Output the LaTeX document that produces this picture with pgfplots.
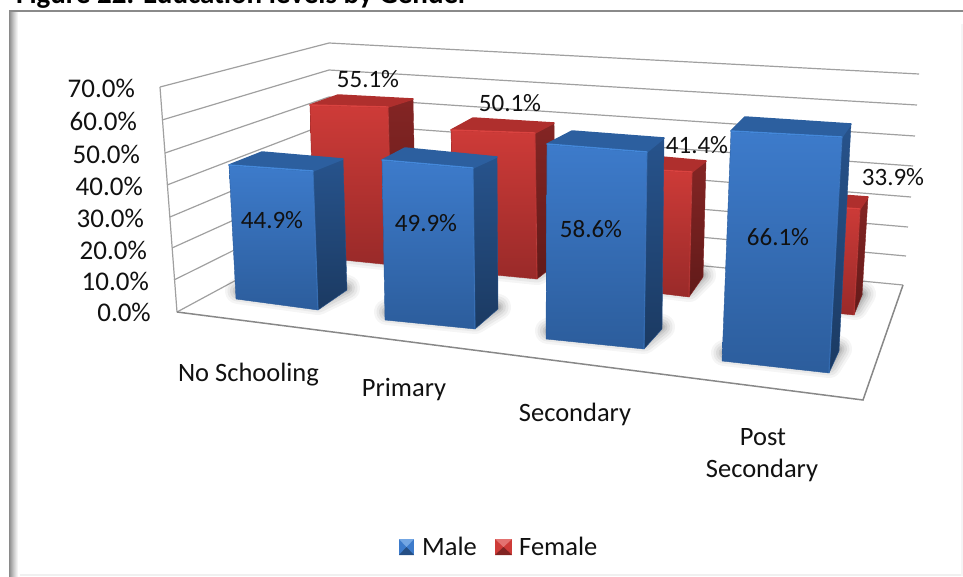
\documentclass[border=0pt]{standalone}
\usepackage{pgfplots}
\pgfplotsset{compat=1.18}
\usepackage{fontspec}
\setmainfont{Carlito}
\definecolor{bFT}{HTML}{3D7BCB}
\definecolor{bFB}{HTML}{2C5D9C}
\definecolor{bST}{HTML}{27538C}
\definecolor{bSB}{HTML}{1B3A62}
\definecolor{bTP}{HTML}{2C5F9F}
\definecolor{bHL}{HTML}{4488DA}
\definecolor{rFT}{HTML}{CE3B38}
\definecolor{rFB}{HTML}{992A29}
\definecolor{rST}{HTML}{842524}
\definecolor{rSB}{HTML}{611A19}
\definecolor{rTP}{HTML}{AF2F2D}
\definecolor{rHL}{HTML}{DA4340}
\definecolor{gridc}{HTML}{A0A0A0}
\definecolor{framec}{HTML}{8A8A8A}
\definecolor{txt}{HTML}{111111}
% front TL, TR, BR, BL; back TL, TR, BR
\newcommand{\tdbar}[8]{%
  \addplot[draw=#1ST, thin, line join=round, top color=#1ST, bottom color=#1SB]
    coordinates {(#3) (#7) (#8) (#4)} -- cycle;
  \addplot[draw=#1FB, thin, line join=round, top color=#1FT, bottom color=#1FB]
    coordinates {(#2) (#3) (#4) (#5)} -- cycle;
  \addplot[draw=#1TP, line width=1.5pt, line join=round, fill=#1TP]
    coordinates {(#2) (#6) (#7) (#3)} -- cycle;
  \addplot[draw=#1HL, line width=1.4pt, line cap=round]
    coordinates {(#2) (#3)};
  \addplot[draw=#1HL, line width=1.2pt, opacity=.4]
    coordinates {(#3) (#4)};
}
\newcommand{\shadow}[1]{%
  \addplot[draw=black, fill=black, line width=26pt, line join=round, opacity=.04] coordinates {#1} -- cycle;
  \addplot[draw=black, fill=black, line width=21pt, line join=round, opacity=.05] coordinates {#1} -- cycle;
  \addplot[draw=black, fill=black, line width=16pt, line join=round, opacity=.06] coordinates {#1} -- cycle;
  \addplot[draw=black, fill=black, line width=11pt, line join=round, opacity=.07] coordinates {#1} -- cycle;
  \addplot[draw=black, fill=black, line width=7pt, line join=round, opacity=.08] coordinates {#1} -- cycle;
  \addplot[draw=black, fill=black, line width=3pt, line join=round, opacity=.09] coordinates {#1} -- cycle;
}
\newcommand{\gridl}[3]{%
  \addplot[gridc, line width=1.2pt, line join=miter] coordinates {(#1) (#2) (#3)};
}
\newcommand{\lab}[3]{\node[anchor=base, text=txt, inner sep=0pt, font=\fontsize{25}{30}\selectfont] at (axis cs:#1,#2) {#3};}
\newcommand{\cat}[3]{\node[anchor=base, text=txt, inner sep=0pt, font=\fontsize{26.5}{30}\selectfont] at (axis cs:#1,#2) {#3};}
\newcommand{\tick}[3]{\node[anchor=base east, text=txt, inner sep=0pt, font=\fontsize{27}{30}\selectfont] at (axis cs:#1,#2) {#3};}
\newcommand{\leg}[3]{\node[anchor=base west, text=txt, inner sep=0pt, font=\fontsize{26.5}{30}\selectfont] at (axis cs:#1,#2) {#3};}
% legend key: x-left, x-right, colour set
\newcommand{\key}[3]{%
  \pgfmathsetmacro{\xm}{(#1+#2)/2}%
  \edef\temp{\noexpand\addplot[draw=none, fill=#3FT] coordinates {(#1,539) (#2,539) (#2,555) (#1,555)} -- cycle;
  \noexpand\addplot[draw=none, fill=#3HL!75!white] coordinates {(#1,539) (#2,539) (\xm,547)} -- cycle;
  \noexpand\addplot[draw=none, fill=#3FB!85!black] coordinates {(#1,555) (#2,555) (\xm,547)} -- cycle;}\temp
}
\begin{document}
\begin{tikzpicture}
\path[use as bounding box] (0,0) rectangle (963pt,576pt);
\clip (0,0) rectangle (963pt,576pt);
\begin{axis}[
  scale only axis, width=963pt, height=576pt,
  xmin=0, xmax=963, ymin=0, ymax=576, y dir=reverse,
  hide axis, clip=false,
]
% frame
\addplot[draw=none, left color=framec, right color=white, middle color=framec!45!white]
  coordinates {(9,10) (18,10) (18,576) (9,576)} -- cycle;
\addplot[draw=none, fill=framec] coordinates {(9,10) (963,10) (963,12) (9,12)} -- cycle;
\addplot[draw=none, fill=black!6] coordinates {(20,574) (963,574) (963,576) (20,576)} -- cycle;
\addplot[draw=none, fill=black!4] coordinates {(961,24) (963,24) (963,576) (961,576)} -- cycle;
% walls: left-end, back-corner, right-end of each gridline
\gridl{160,87}{329,43}{919,74}
\gridl{162,120}{329,70}{917,105}
\gridl{165,153}{329,97}{915,136}
\gridl{167,185}{329,123}{913,166}
\gridl{170,217}{329,150}{911,197}
\gridl{172,248}{329,177}{908,227}
\gridl{174,280}{329,203}{906,256}
\gridl{177,312}{329,230}{903,285}
% left wall edge and floor outline
\addplot[gridc, line width=1.2pt] coordinates {(160,87) (177,312)};
\addplot[gridc!85!black, line width=1.5pt, line join=miter] coordinates {(177,312) (863,400) (903,285)};
% shadows
\shadow{(320,250) (392,258) (416,243) (370,235)}
\shadow{(460,264) (537,272) (556,262) (500,250)}
\shadow{(665,286) (689,289) (703,275) (680,270)}
\shadow{(845,305) (855,307) (863,294) (850,285)}
\shadow{(238,291) (318,302) (347,288) (290,270)}
\shadow{(387,312) (475,321) (498,307) (440,290)}
\shadow{(548,331) (644,341) (662,327) (600,310)}
\shadow{(724,353) (829,365) (839,349) (780,330)}
% red series
\tdbar{r}{310,105}{388,107}{392,265}{314,257}{338,95}{413,99}{416,245}
\tdbar{r}{451,130}{535,133}{537,279}{454,271}{473,118}{554,123}{556,264}
\tdbar{r}{620,168}{692,172}{689,297}{615,288}{640,155}{706,161}{703,277}
\tdbar{r}{790,204}{860,209}{854,315}{785,308}{800,192}{868,197}{862,295}
% blue series
\tdbar{b}{229,165}{313,171}{318,310}{236,299}{262,152}{343,159}{347,290}
\tdbar{b}{382,160}{473,168}{475,329}{385,320}{405,148}{497,157}{498,309}
\tdbar{b}{547,144}{647,152}{644,349}{546,339}{572,131}{664,138}{662,329}
\tdbar{b}{731,131}{842,137}{829,373}{722,361}{745,117}{851,124}{839,351}
% value axis labels
\tick{135}{97}{70.0\%}
\tick{137}{130}{60.0\%}
\tick{140}{163}{50.0\%}
\tick{143}{195}{40.0\%}
\tick{144}{227}{30.0\%}
\tick{147}{259}{20.0\%}
\tick{149}{290}{10.0\%}
\tick{151}{321}{0.0\%}
% data labels
\lab{368}{87}{55.1\%}
\lab{510}{111}{50.1\%}
\lab{697}{153}{41.4\%}
\lab{893}{185}{33.9\%}
\lab{272}{228}{44.9\%}
\lab{426}{231}{49.9\%}
\lab{591}{237}{58.6\%}
\lab{778}{245}{66.1\%}
% category labels
\cat{248.5}{381}{No Schooling}
\cat{404}{396}{Primary}
\cat{575}{421}{Secondary}
\cat{763}{445}{Post}
\cat{762}{477}{Secondary}
% title, cut by the top of the picture
\node[anchor=base west, inner sep=0pt, text=black, font=\fontsize{29}{32}\selectfont\bfseries] at (axis cs:16,3)
  {Figure 22: Education levels by Gender};
% legend
\key{399}{414}{b}
\key{495}{512}{r}
\leg{422}{555}{Male}
\leg{519}{555}{Female}
\end{axis}
\end{tikzpicture}
\end{document}
